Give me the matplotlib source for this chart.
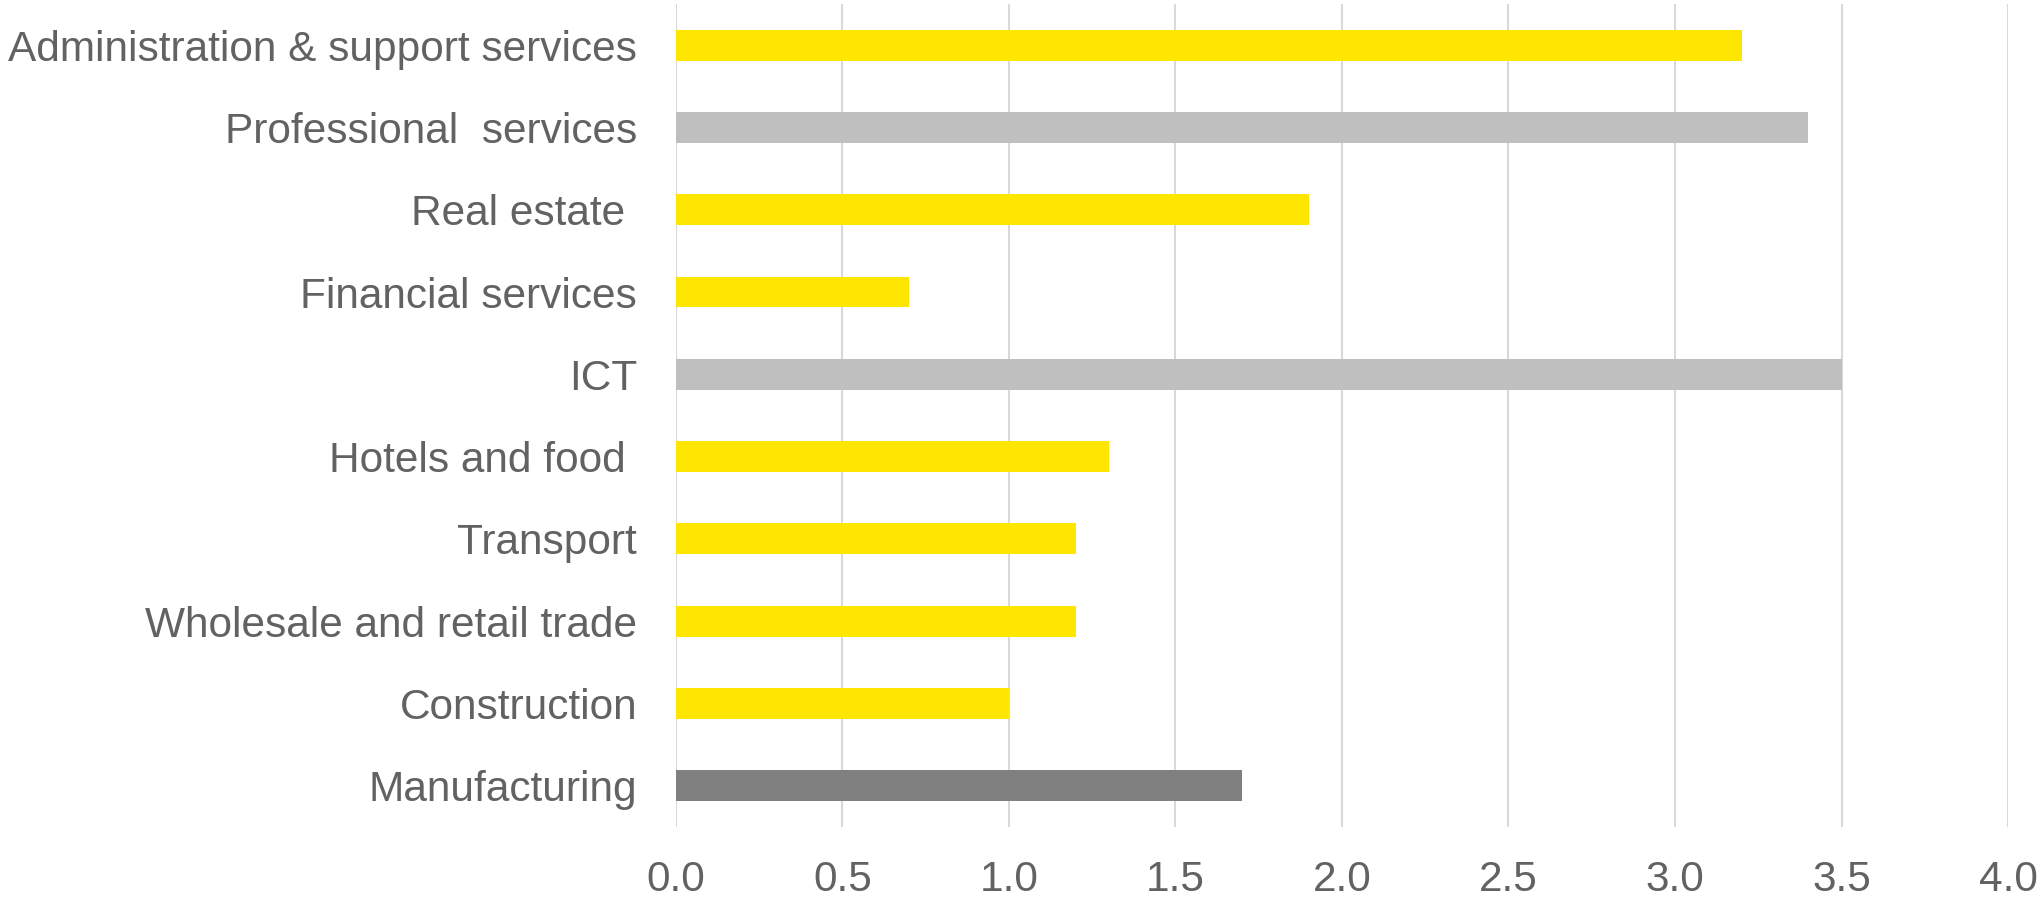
import matplotlib
matplotlib.use('Agg')
import matplotlib.pyplot as plt

# Data (top to bottom as shown)
sectors = ['Administration & support services', 'Professional  services', 'Real estate ',
           'Financial services', 'ICT', 'Hotels and food ', 'Transport',
           'Wholesale and retail trade', 'Construction', 'Manufacturing']
values = [3.2, 3.4, 1.9, 0.7, 3.5, 1.3, 1.2, 1.2, 1.0, 1.7]
colours = ['#FFE600', '#BFBFBF', '#FFE600', '#FFE600', '#BFBFBF', '#FFE600',
           '#FFE600', '#FFE600', '#FFE600', '#808080']
xticks = [0.0, 0.5, 1.0, 1.5, 2.0, 2.5, 3.0, 3.5, 4.0]

TXT = '#626262'
plt.rcParams['font.family'] = ['Liberation Sans', 'DejaVu Sans']

fig = plt.figure(figsize=(20.44, 8.99), dpi=100)
ax = fig.add_axes([0.3307, 0.0801, 0.9824 - 0.3307, 0.9956 - 0.0801])

pos = list(range(len(sectors)))
ax.barh(pos, values, height=0.375, color=colours, zorder=3)

ax.set_xlim(0, 4.0)
ax.set_ylim(len(sectors) - 0.5, -0.5)
ax.set_xticks(xticks)
ax.set_xticklabels([f'{t:.1f}' for t in xticks])
ax.set_yticks(pos)
ax.set_yticklabels(sectors)

ax.grid(axis='x', color='#D9D9D9', linewidth=1.5, zorder=0)
ax.grid(axis='y', visible=False)
for s in ax.spines.values():
    s.set_visible(False)
ax.tick_params(axis='both', length=0, labelsize=30.5, labelcolor=TXT)
ax.tick_params(axis='x', pad=24)
ax.tick_params(axis='y', pad=28)

fig.savefig('out.png', dpi=100, facecolor='white')
